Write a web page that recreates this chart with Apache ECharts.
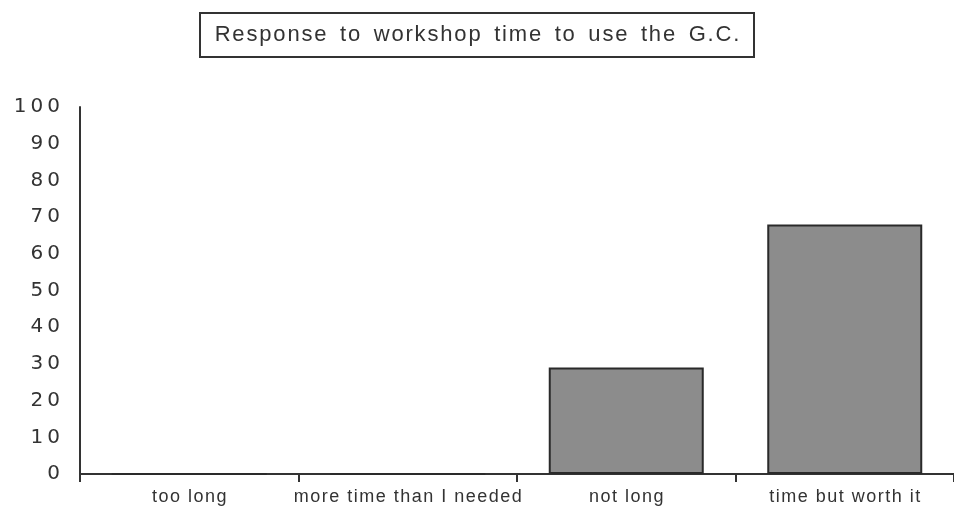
<!DOCTYPE html>
<html>
<head>
<meta charset="utf-8">
<script src="https://cdn.jsdelivr.net/npm/echarts@6/dist/echarts.min.js"></script>
<style>
  html, body { margin: 0; padding: 0; background: #fff; }
  #chart { width: 954px; height: 507px; }
</style>
</head>
<body>
<div id="chart"></div>
<script>
// data
var categories = ['too long', 'more time than I needed', 'not long', 'time but worth it'];
var responses = [0, 0, 29, 68];
var yTicks = [0, 10, 20, 30, 40, 50, 60, 70, 80, 90, 100];
var titleText = 'Response to workshop time to use the G.C.';

// the old chart uses wide letter spacing, fake it with thin / hair spaces
function spaced(s) {
    return String(s).split('').join('\u2009');
}
function hair(s) {
    return String(s).split('').join('\u200A');
}

var myChart = echarts.init(document.getElementById('chart'));
myChart.setOption({
    animation: false,
    title: {
        text: hair(titleText).replace(/ /g, '\u200A \u200A'),
        left: 'center',
        top: 13,
        padding: [11, 15, 11, 15],
        borderWidth: 2,
        borderColor: '#333',
        textStyle: {
            fontFamily: 'Liberation Sans',
            fontWeight: 'normal',
            fontSize: 22,
            color: '#333'
        }
    },
    grid: {
        left: 80,
        width: 880,
        top: 107,
        bottom: 33
    },
    xAxis: {
        type: 'category',
        data: categories,
        boundaryGap: true,
        axisLine: { lineStyle: { color: '#333', width: 2 } },
        axisTick: { show: true, length: 8, lineStyle: { color: '#333', width: 2 } },
        axisLabel: {
            interval: 0,
            margin: 14,
            fontFamily: 'Liberation Sans',
            fontSize: 18,
            color: '#333',
            formatter: hair
        }
    },
    yAxis: {
        type: 'value',
        min: yTicks[0],
        max: yTicks[yTicks.length - 1],
        interval: 10,
        axisLine: { show: true, lineStyle: { color: '#333', width: 2 } },
        axisTick: { show: false },
        splitLine: { show: false },
        axisLabel: {
            margin: 20,
            fontFamily: 'DejaVu Sans',
            fontSize: 20,
            color: '#333',
            formatter: spaced
        }
    },
    series: [{
        type: 'bar',
        data: responses,
        barWidth: 155,
        itemStyle: {
            color: '#8c8c8c',
            borderColor: '#2a2a2a',
            borderWidth: 2
        }
    }]
});
</script>
</body>
</html>
